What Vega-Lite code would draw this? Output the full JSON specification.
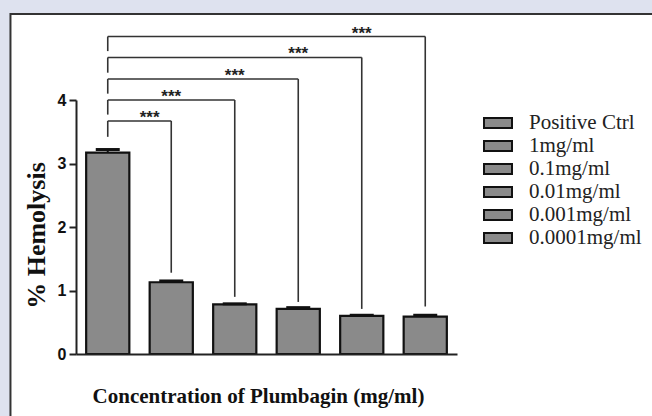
{
  "$schema": "https://vega.github.io/schema/vega-lite/v6.json",
  "autosize": {"type": "none"},
  "width": 381,
  "height": 254,
  "padding": {"left": 76, "top": 100, "right": 195, "bottom": 62},
  "background": "#dee2ef",
  "config": {"font": "Liberation Serif", "view": {"stroke": null}},
  "datasets": {
    "bars": [
      {"group": "Positive Ctrl", "value": 3.17, "err": 0.05},
      {"group": "1mg/ml", "value": 1.13, "err": 0.02},
      {"group": "0.1mg/ml", "value": 0.78, "err": 0.01},
      {"group": "0.01mg/ml", "value": 0.71, "err": 0.02},
      {"group": "0.001mg/ml", "value": 0.6, "err": 0.01},
      {"group": "0.0001mg/ml", "value": 0.59, "err": 0.02}
    ],
    "brackets": [
      {"from": "Positive Ctrl", "to": "1mg/ml", "h": 3.67, "leftLow": 3.42, "rightLow": 1.28, "star": "1mg/ml", "label": "***"},
      {"from": "Positive Ctrl", "to": "0.1mg/ml", "h": 4.0, "leftLow": 3.77, "rightLow": 0.9, "star": "1mg/ml", "label": "***"},
      {"from": "Positive Ctrl", "to": "0.01mg/ml", "h": 4.33, "leftLow": 4.1, "rightLow": 0.82, "star": "0.1mg/ml", "label": "***"},
      {"from": "Positive Ctrl", "to": "0.001mg/ml", "h": 4.67, "leftLow": 4.43, "rightLow": 0.71, "star": "0.01mg/ml", "label": "***"},
      {"from": "Positive Ctrl", "to": "0.0001mg/ml", "h": 5.0, "leftLow": 4.77, "rightLow": 0.75, "star": "0.001mg/ml", "label": "***"}
    ],
    "panel": [{"name": "panel"}]
  },
  "resolve": {"scale": {"x": "independent"}, "axis": {"x": "independent"}},
  "layer": [
    {
      "data": {"name": "panel"},
      "mark": {"type": "rect", "fill": "#ffffff", "stroke": "#333333", "strokeWidth": 2},
      "encoding": {
        "x": {"datum": -0.172, "type": "quantitative", "scale": {"domain": [0, 1]}, "axis": null},
        "x2": {"datum": 2},
        "y": {"datum": -2, "type": "quantitative", "scale": {"domain": [0, 4]}},
        "y2": {"datum": 5.354}
      }
    },
    {
      "layer": [
        {
          "data": {"name": "bars"},
          "mark": {"type": "bar", "stroke": "#111111", "strokeWidth": 2.2},
          "encoding": {
            "x": {
              "field": "group", "type": "nominal",
              "scale": {"domain": ["Positive Ctrl", "1mg/ml", "0.1mg/ml", "0.01mg/ml", "0.001mg/ml", "0.0001mg/ml"], "paddingInner": 0.32, "paddingOuter": 0.16},
              "axis": {"zindex": 1, "labels": false, "ticks": false, "domainColor": "#222222", "domainWidth": 2, "title": "Concentration of Plumbagin (mg/ml)", "titleFont": "Liberation Serif", "titleFontSize": 21, "titleFontWeight": "bold", "titleColor": "#111111", "titlePadding": 31, "titleX": 182, "titleAlign": "center"}
            },
            "y": {
              "field": "value", "type": "quantitative",
              "scale": {"domain": [0, 4]},
              "axis": {"zindex": 1, "values": [0, 1, 2, 3, 4], "format": "d", "title": "% Hemolysis", "titleFont": "Liberation Serif", "titleFontSize": 26, "titleFontWeight": "bold", "titleColor": "#111111", "titlePadding": 8, "titleY": 135, "labelFont": "Liberation Sans", "labelFontSize": 16, "labelFontWeight": "bold", "labelColor": "#111111", "labelPadding": 3, "tickSize": 7, "tickWidth": 2, "tickColor": "#222222", "domainColor": "#222222", "domainWidth": 2, "grid": false}
            },
            "color": {
              "field": "group", "type": "nominal",
              "scale": {"domain": ["Positive Ctrl", "1mg/ml", "0.1mg/ml", "0.01mg/ml", "0.001mg/ml", "0.0001mg/ml"], "range": ["#8a8a8a", "#8a8a8a", "#8a8a8a", "#8a8a8a", "#8a8a8a", "#8a8a8a"]},
              "legend": {"title": null, "orient": "none", "legendX": 411, "legendY": 12, "padding": 0, "symbolType": "M-1.4,-0.5H1.4V0.5H-1.4Z", "symbolSize": 400, "symbolStrokeColor": "#111111", "symbolStrokeWidth": 2, "symbolOpacity": 1, "labelFont": "Liberation Serif", "labelFontSize": 21, "labelColor": "#222222", "labelOffset": 20, "rowPadding": 2}
            }
          }
        },
        {
          "data": {"name": "bars"},
          "mark": {"type": "rule", "stroke": "#111111", "strokeWidth": 2},
          "encoding": {
            "x": {"field": "group", "type": "nominal"},
            "y": {"field": "value", "type": "quantitative"},
            "y2": {"field": "top"}
          },
          "transform": [{"calculate": "datum.value + datum.err", "as": "top"}]
        },
        {
          "data": {"name": "bars"},
          "transform": [{"calculate": "datum.value + datum.err", "as": "top"}],
          "mark": {"type": "tick", "color": "#111111", "size": 24, "thickness": 3, "opacity": 1},
          "encoding": {
            "x": {"field": "group", "type": "nominal"},
            "y": {"field": "top", "type": "quantitative"}
          }
        },
        {
          "data": {"name": "brackets"},
          "mark": {"type": "rule", "stroke": "#333333", "strokeWidth": 1.6},
          "encoding": {
            "x": {"field": "from", "type": "nominal"},
            "x2": {"field": "to"},
            "y": {"field": "h", "type": "quantitative"}
          }
        },
        {
          "data": {"name": "brackets"},
          "mark": {"type": "rule", "stroke": "#333333", "strokeWidth": 1.6},
          "encoding": {
            "x": {"field": "from", "type": "nominal"},
            "y": {"field": "h", "type": "quantitative"},
            "y2": {"field": "leftLow"}
          }
        },
        {
          "data": {"name": "brackets"},
          "mark": {"type": "rule", "stroke": "#333333", "strokeWidth": 1.6},
          "encoding": {
            "x": {"field": "to", "type": "nominal"},
            "y": {"field": "h", "type": "quantitative"},
            "y2": {"field": "rightLow"}
          }
        },
        {
          "data": {"name": "brackets"},
          "transform": [{"filter": "datum.to === '1mg/ml'"}],
          "mark": {"type": "text", "font": "Liberation Sans", "fontWeight": "bold", "fontSize": 17, "color": "#222222", "baseline": "middle", "dy": -3},
          "encoding": {
            "x": {"field": "star", "type": "nominal", "bandPosition": 0},
            "y": {"field": "h", "type": "quantitative"},
            "text": {"field": "label"}
          }
        },
        {
          "data": {"name": "brackets"},
          "transform": [{"filter": "datum.to !== '1mg/ml'"}],
          "mark": {"type": "text", "font": "Liberation Sans", "fontWeight": "bold", "fontSize": 17, "color": "#222222", "baseline": "middle", "dy": -3},
          "encoding": {
            "x": {"field": "star", "type": "nominal"},
            "y": {"field": "h", "type": "quantitative"},
            "text": {"field": "label"}
          }
        }
      ]
    }
  ]
}
